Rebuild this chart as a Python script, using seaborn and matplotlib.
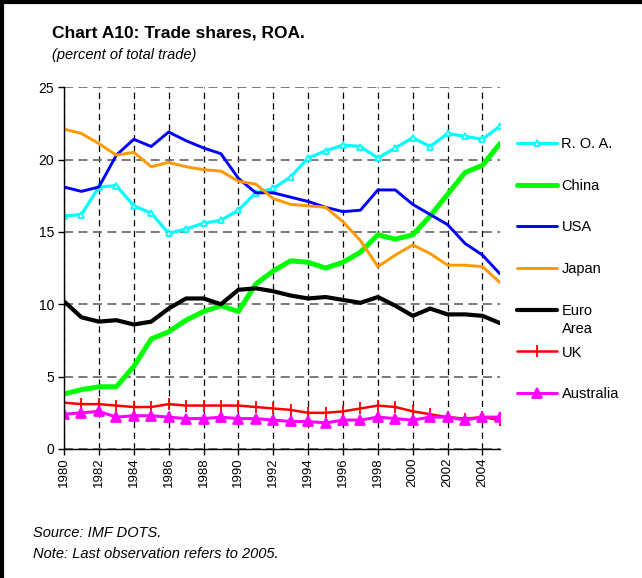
import matplotlib
matplotlib.use("Agg")
import matplotlib.pyplot as plt
import seaborn as sns

# data (percent of total trade)
years = list(range(1980, 2006))
roa = [16.1, 16.2, 18.1, 18.2, 16.8, 16.3, 14.9, 15.2, 15.6, 15.8, 16.5, 17.7, 18.0,
       18.8, 20.1, 20.6, 21.0, 20.9, 20.1, 20.8, 21.5, 20.9, 21.8, 21.6, 21.4, 22.3]
china = [3.8, 4.1, 4.3, 4.3, 5.7, 7.6, 8.1, 8.9, 9.5, 9.9, 9.5, 11.4, 12.3,
         13.0, 12.9, 12.5, 12.9, 13.6, 14.8, 14.5, 14.8, 16.1, 17.6, 19.1, 19.6, 21.1]
usa = [18.1, 17.8, 18.1, 20.3, 21.4, 20.9, 21.9, 21.3, 20.8, 20.4, 18.7, 17.7, 17.7,
       17.4, 17.1, 16.7, 16.4, 16.5, 17.9, 17.9, 16.9, 16.2, 15.5, 14.2, 13.4, 12.1]
japan = [22.1, 21.8, 21.1, 20.3, 20.5, 19.5, 19.8, 19.5, 19.3, 19.2, 18.5, 18.3, 17.3,
         16.9, 16.8, 16.7, 15.7, 14.4, 12.6, 13.4, 14.1, 13.5, 12.7, 12.7, 12.6, 11.5]
euro = [10.2, 9.1, 8.8, 8.9, 8.6, 8.8, 9.7, 10.4, 10.4, 10.0, 11.0, 11.1, 10.9,
        10.6, 10.4, 10.5, 10.3, 10.1, 10.5, 9.9, 9.2, 9.7, 9.3, 9.3, 9.2, 8.7]
uk = [3.2, 3.1, 3.1, 3.0, 2.9, 2.9, 3.1, 3.0, 3.0, 3.0, 3.0, 2.9, 2.8,
      2.7, 2.5, 2.5, 2.6, 2.8, 3.0, 2.9, 2.6, 2.4, 2.2, 2.1, 2.2, 2.0]
australia = [2.4, 2.5, 2.6, 2.2, 2.3, 2.3, 2.2, 2.1, 2.1, 2.2, 2.1, 2.1, 2.0,
             1.9, 1.9, 1.8, 2.0, 2.0, 2.2, 2.1, 2.0, 2.2, 2.2, 2.0, 2.2, 2.2]

labels = ["R. O. A.", "China", "USA", "Japan", "Euro", "UK", "Australia"]
series = [roa, china, usa, japan, euro, uk, australia]

sns.set_style("white")
plt.rcParams["font.family"] = ["Liberation Sans", "DejaVu Sans"]
plt.rcParams["text.color"] = "black"
plt.rcParams["xtick.color"] = "black"
plt.rcParams["ytick.color"] = "black"

fig = plt.figure(figsize=(6.42, 5.78), dpi=100)
ax = fig.add_axes([0.0997, 0.2232, 0.679, 0.626])

# style per series: colour, width, marker, marker size, marker face
styles = [
    ("#00FFFF", 2.3, "^", 5, "white"),
    ("#00FF00", 3.6, None, 0, None),
    ("#0000FF", 2.1, None, 0, None),
    ("#FF9900", 2.1, None, 0, None),
    ("#000000", 3.0, None, 0, None),
    ("#FF0000", 1.8, "|", 9, "#FF0000"),
    ("#FF00FF", 2.2, "^", 7, "#FF00FF"),
]

for lab, vals, (col, lw, mk, ms, mfc) in zip(labels, series, styles):
    kw = dict(color=col, linewidth=lw, label=lab, ax=ax)
    if mk is not None:
        kw.update(marker=mk, markersize=ms, markerfacecolor=mfc,
                  markeredgecolor=col, markeredgewidth=1.3)
    sns.lineplot(x=years, y=vals, **kw)

ax.set_xlim(1980, 2005)
ax.set_ylim(0, 25)
ax.set_xticks(range(1980, 2005, 2))
ax.set_yticks(range(0, 26, 5))
ax.set_xlabel("")
ax.set_ylabel("")

ax.grid(axis="x", color="black", linestyle=(0, (5, 3.5)), linewidth=0.9)
ax.grid(axis="y", color="#707070", linestyle=(0, (5, 3)), linewidth=1.3)
ax.set_axisbelow(True)

for s in ["top", "right"]:
    ax.spines[s].set_visible(False)
for s in ["left", "bottom"]:
    ax.spines[s].set_color("black")
    ax.spines[s].set_linewidth(1.0)

ax.tick_params(axis="x", direction="out", length=4, width=1, color="black",
               labelcolor="black", labelrotation=90, labelsize=9.5, pad=2,
               bottom=True)
ax.tick_params(axis="y", direction="out", length=4, width=1, color="black",
               labelcolor="black", labelsize=10, pad=3, left=True)

leg = ax.legend(loc="upper left", bbox_to_anchor=(0.8053, 0.763),
                bbox_transform=fig.transFigure, frameon=False, fontsize=10.5,
                handlelength=2.75, handletextpad=0.3, labelspacing=1.9,
                borderaxespad=0, borderpad=0)
# second line of the "Euro Area" label, hung under the "Euro" text
euro_txt = leg.get_texts()[4]
ax.annotate("Area", xy=(0, 0), xycoords=euro_txt, xytext=(0, -3),
            textcoords="offset points", va="top", ha="left", fontsize=10.5,
            zorder=10, annotation_clip=False)

fig.text(0.081, 0.9355, "Chart A10: Trade shares, ROA.", fontsize=12.5,
         fontweight="bold", va="baseline")
fig.text(0.081, 0.898, "(percent of total trade)", fontsize=10.5,
         style="italic", va="baseline")
fig.text(0.052, 0.071, "Source: IMF DOTS.", fontsize=10.5, style="italic",
         va="baseline")
fig.text(0.052, 0.0346, "Note: Last observation refers to 2005.", fontsize=10.5,
         style="italic", va="baseline")

# black frame lines on top and left edge of the picture
fig.add_artist(plt.Line2D([0, 1], [0.9965, 0.9965], color="black", lw=3,
                          transform=fig.transFigure))
fig.add_artist(plt.Line2D([0.003, 0.003], [0, 1], color="black", lw=3,
                          transform=fig.transFigure))

fig.savefig("out.png", dpi=100)
